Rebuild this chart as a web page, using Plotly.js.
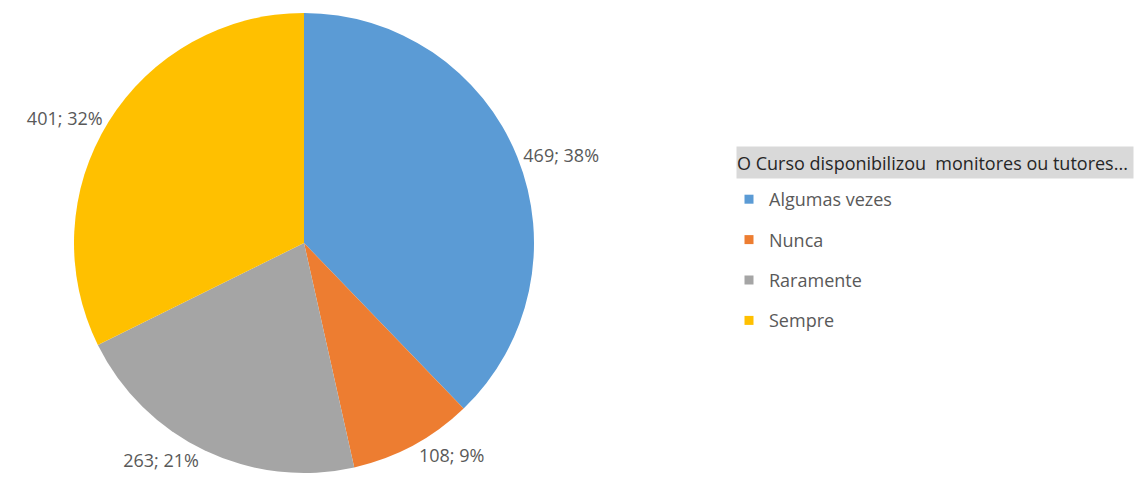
<!DOCTYPE html>
<html>
<head>
<meta charset="utf-8">
<script src="https://cdn.plot.ly/plotly-3.0.1.min.js"></script>
<style>html,body{margin:0;padding:0;background:#fff;}#chart{width:1142px;height:489px;}</style>
</head>
<body>
<div id="chart"></div>
<script>
const categories = ["Algumas vezes", "Nunca", "Raramente", "Sempre"];
const values = [469, 108, 263, 401];
const colors = ["#5B9BD5", "#ED7D31", "#A5A5A5", "#FFC000"];
const legendTitle = "O Curso disponibilizou&nbsp; monitores ou tutores...";

const W = 1142, H = 489;
const FONT = "Open Sans, Noto Sans, sans-serif";

const traces = [{
  type: "pie",
  labels: categories,
  values: values,
  marker: {colors: colors, line: {color: "#ffffff", width: 0}},
  sort: false,
  direction: "clockwise",
  rotation: 0,
  texttemplate: "%{value}; %{percent:.0%}",
  textposition: "outside",
  outsidetextfont: {family: FONT, size: 18, color: "#595959"},
  showlegend: false,
  hoverinfo: "label+value+percent",
  domain: {x: [74 / W, 534 / W], y: [1 - 473 / H, 1 - 13 / H]},
  automargin: false
}];

categories.forEach((c, i) => {
  traces.push({
    type: "scatter",
    x: [null], y: [null],
    mode: "markers",
    name: c,
    legendgroup: "g" + i,
    marker: {symbol: "square", size: 9, color: colors[i]},
    showlegend: true,
    hoverinfo: "skip"
  });
});

const layout = {
  width: W, height: H,
  margin: {l: 0, r: 0, t: 0, b: 0},
  paper_bgcolor: "#ffffff",
  plot_bgcolor: "rgba(0,0,0,0)",
  xaxis: {visible: false, domain: [0.62, 0.99]},
  yaxis: {visible: false, domain: [0.2, 0.8]},
  showlegend: true,
  legend: {
    x: 729 / W, xanchor: "left",
    y: 1 - 181 / H, yanchor: "top",
    traceorder: "grouped",
    tracegroupgap: 14,
    font: {family: FONT, size: 18, color: "#595959"},
    bgcolor: "rgba(0,0,0,0)",
    borderwidth: 0
  },
  annotations: [{
    xref: "paper", yref: "paper",
    x: 736 / W, y: 1 - 162.5 / H,
    xanchor: "left", yanchor: "middle",
    text: legendTitle,
    showarrow: false,
    align: "left",
    width: 396, height: 31,
    bgcolor: "#d9d9d9",
    borderpad: 0,
    font: {family: FONT, size: 18, color: "#262626"}
  }]
};

Plotly.newPlot("chart", traces, layout, {displayModeBar: false, staticPlot: true});
</script>
</body>
</html>
